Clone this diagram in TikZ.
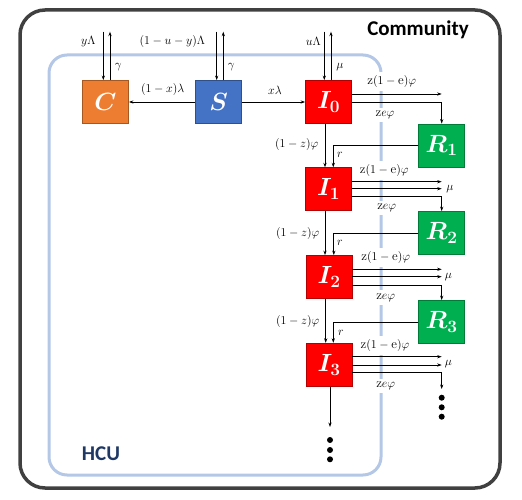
\documentclass[tikz,border=0pt]{standalone}
\usepackage{fontspec}
\usepackage{amsmath,amssymb,bm}
\newfontfamily\carlito{Carlito}
\usetikzlibrary{arrows.meta,calc}
\definecolor{corange}{HTML}{ED7D31}
\definecolor{cblue}{HTML}{4472C4}
\definecolor{cred}{HTML}{FF0000}
\definecolor{cgreen}{HTML}{00B050}
\definecolor{hculine}{HTML}{B4C7E7}
\definecolor{hcutext}{HTML}{1F3864}
\definecolor{outerline}{HTML}{404040}
\begin{document}
\begin{tikzpicture}[x=1pt,y=-1pt,
  box/.style={draw=#1!70!black,fill=#1,line width=0.8pt,minimum width=46pt,minimum height=43pt,inner sep=0pt,text=white,font=\fontsize{23}{26}\selectfont},
  arr/.style={-{Stealth[length=4.5pt,width=3.2pt]},line width=0.75pt,black},
  lab/.style={inner sep=1pt,font=\fontsize{13}{15}\selectfont},
  wlab/.style={lab,fill=white,inner sep=3.5pt},
  dot/.style={circle,fill=black,inner sep=0pt,minimum size=6pt},
  ttl/.style={font=\carlito\bfseries\fontsize{21}{24}\selectfont}]
\useasboundingbox (0,0) rectangle (522,500);
% outer frame
\draw[outerline,line width=3.5pt,rounded corners=25pt] (20,10) rectangle (500,488);
% HCU frame
\draw[hculine,line width=3pt,rounded corners=18pt] (49,55) rectangle (381,475);
\node[ttl] (community) at (418,30) {Community};
\node[ttl,text=hcutext] (hcu) at (101,453.5) {HCU};
% boxes
\node[box=corange] (C) at (105.5,102) {$\bm{C}$};
\node[box=cblue] (S) at (218.7,102) {$\bm{S}$};
\node[box=cred] (I0) at (328.5,102) {$\bm{I_0}$};
\node[box=cred] (I1) at (328.5,189.2) {$\bm{I_1}$};
\node[box=cred] (I2) at (329,277) {$\bm{I_2}$};
\node[box=cred] (I3) at (329,364.7) {$\bm{I_3}$};
\node[box=cgreen] (R1) at (441.7,145.5) {$\bm{R_1}$};
\node[box=cgreen] (R2) at (441.7,233) {$\bm{R_2}$};
\node[box=cgreen] (R3) at (441.7,322) {$\bm{R_3}$};
% top inflows / outflows
\coordinate (ct1) at (103.3,31.7); \coordinate (ct2) at (110,31.7);
\coordinate (st1) at (216.7,31.7); \coordinate (st2) at (223.3,31.7);
\coordinate (it1) at (324.3,31.7); \coordinate (it2) at (331,31.7);
\draw[arr] (ct1) -- (ct1 |- C.north);
\draw[arr] (ct2 |- C.north) -- (ct2);
\draw[arr] (st1) -- (st1 |- S.north);
\draw[arr] (st2 |- S.north) -- (st2);
\draw[arr] (it1) -- (it1 |- I0.north);
\draw[arr] (it2 |- I0.north) -- (it2);
\node[lab] (l1) at (88.3,41.7) {$y\Lambda$};
\node[lab] (l2) at (118.3,66.7) {$\gamma$};
\node[lab] (l3) at (172.3,41.7) {$(1-u-y)\Lambda$};
\node[lab] (l4) at (231.3,66.7) {$\gamma$};
\node[lab] (l5) at (313.3,41.7) {$u\Lambda$};
\node[lab] (l6) at (340,66.7) {$\mu$};
% S -> C, S -> I0
\draw[arr] (S.west) -- (C.east);
\draw[arr] (S.east) -- (I0.west);
\node[lab] (l7) at (162.7,90) {$(1-x)\lambda$};
\node[lab] (l8) at (275,90) {$x\lambda$};
% I0 outflows
\coordinate (e0a) at (441.7,94);
\draw[arr] (I0.east |- e0a) -- (e0a);
\coordinate (e0c) at (441.7,102.7);
\draw[arr] (I0.east |- e0c) -- (e0c) -- (R1.north);
\node[wlab] (z0) at (391.7,81.7) {$\mathrm{z}(1-\mathrm{e})\varphi$};
\node[wlab] (ze0) at (385,115) {$\mathrm{z}e\varphi$};
% I1 outflows
\coordinate (e1a) at (441.7,181.7);
\coordinate (e1b) at (441.7,188.7);
\coordinate (e1c) at (441.7,196.7);
\draw[arr] (I1.east |- e1a) -- (e1a);
\draw[arr] (I1.east |- e1b) -- (e1b);
\draw[arr] (I1.east |- e1c) -- (e1c) -- (R2.north);
\node[wlab] (z1) at (384.3,170.3) {$\mathrm{z}(1-\mathrm{e})\varphi$};
\node[wlab] (ze1) at (386.7,208) {$\mathrm{z}e\varphi$};
\node[lab] (m1) at (450,188.7) {$\mu$};
% I2 outflows
\coordinate (e2a) at (441.7,269.3);
\coordinate (e2b) at (441.7,276.7);
\coordinate (e2c) at (441.7,285);
\draw[arr] (I2.east |- e2a) -- (e2a);
\draw[arr] (I2.east |- e2b) -- (e2b);
\draw[arr] (I2.east |- e2c) -- (e2c) -- (R3.north);
\node[wlab] (z2) at (385.7,257.7) {$\mathrm{z}(1-\mathrm{e})\varphi$};
\node[wlab] (ze2) at (385.7,297.7) {$\mathrm{z}e\varphi$};
\node[lab] (m2) at (448.3,276.7) {$\mu$};
% I3 outflows
\coordinate (e3a) at (441.7,356.7);
\coordinate (e3b) at (441.7,365);
\coordinate (e3c) at (441.7,372.7);
\coordinate (e3d) at (441.7,389);
\draw[arr] (I3.east |- e3a) -- (e3a);
\draw[arr] (I3.east |- e3b) -- (e3b);
\draw[arr] (I3.east |- e3c) -- (e3c) -- (e3d);
\node[wlab] (z3) at (385,345.7) {$\mathrm{z}(1-\mathrm{e})\varphi$};
\node[wlab] (ze3) at (385.7,386) {$\mathrm{z}e\varphi$};
\node[lab] (m3) at (448.3,364.3) {$\mu$};
\node[dot] (rd1) at (441.7,397.7) {};
\node[dot] (rd2) at (441.7,407.3) {};
\node[dot] (rd3) at (441.7,416.7) {};
% I chain
\draw[arr] ([xshift=-3.5pt]I0.south) -- ([xshift=-3.5pt]I0.south |- I1.north);
\draw[arr] ([xshift=-3.5pt]I1.south) -- ([xshift=-3.5pt]I1.south |- I2.north);
\draw[arr] ([xshift=-3.3pt]I2.south) -- ([xshift=-3.3pt]I2.south |- I3.north);
\node[lab] (f1) at (296.7,144) {$(1-z)\varphi$};
\node[lab] (f2) at (297.7,233.3) {$(1-z)\varphi$};
\node[lab] (f3) at (297.7,321.7) {$(1-z)\varphi$};
% R -> I
\draw[arr] (R1.west) -| ([xshift=4.8pt]I1.north);
\draw[arr] (R2.west) -| ([xshift=4.8pt]I2.north);
\draw[arr] (R3.west) -| ([xshift=4.3pt]I3.north);
\node[lab] (r1) at (340,155) {$r$};
\node[lab] (r2) at (340,243.3) {$r$};
\node[lab] (r3) at (341,332.7) {$r$};
% I3 down
\coordinate (i3d) at (330,427);
\draw[arr] (I3.south -| i3d) -- (i3d);
\node[dot] (bd1) at (330,440) {};
\node[dot] (bd2) at (330,450) {};
\node[dot] (bd3) at (330,459.3) {};
\end{tikzpicture}
\end{document}
